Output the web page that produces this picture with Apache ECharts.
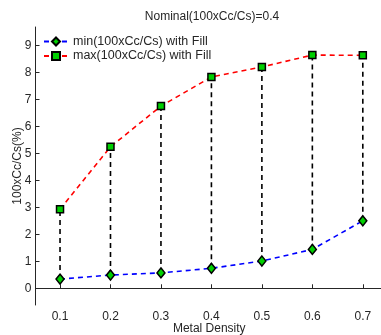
<!DOCTYPE html>
<html><head><meta charset="utf-8">
<script src="https://cdn.jsdelivr.net/npm/echarts@6/dist/echarts.min.js"></script>
<style>html,body{margin:0;padding:0;background:#fff}#c{width:381px;height:335px}</style>
</head><body><div id="c"></div>
<script>
var density = [0.1, 0.2, 0.3, 0.4, 0.5, 0.6, 0.7];
var minVals = [0.34, 0.49, 0.57, 0.74, 1.01, 1.44, 2.50];
var maxVals = [2.93, 5.24, 6.75, 7.83, 8.20, 8.64, 8.63];
var yTicks = [0, 1, 2, 3, 4, 5, 6, 7, 8, 9];
var xTicks = [0.1, 0.2, 0.3, 0.4, 0.5, 0.6, 0.7];
var titleText = 'Nominal(100xCc/Cs)=0.4';
var minName = 'min(100xCc/Cs) with Fill';
var maxName = 'max(100xCc/Cs) with Fill';

var font = 'Liberation Sans, Arial, Helvetica, sans-serif';
var chart = echarts.init(document.getElementById('c'), null, {renderer: 'canvas'});
var minData = density.map(function (x, i) { return [x, minVals[i]]; });
var maxData = density.map(function (x, i) { return [x, maxVals[i]]; });
var rangeData = density.map(function (x, i) { return [x, minVals[i], maxVals[i]]; });

chart.setOption({
  animation: false,
  title: {text: titleText, left: 207, top: 6, textAlign: 'center',
    textStyle: {fontFamily: font, fontSize: 12, fontWeight: 'normal', color: '#262626'}},
  grid: {left: 35.5, right: -2, top: 27, bottom: 30, containLabel: false, outerBoundsMode: 'none'},
  legend: {
    orient: 'vertical', left: 38, top: 30, itemWidth: 24, itemHeight: 10, itemGap: 1.5,
    textStyle: {fontFamily: font, fontSize: 12.5, color: '#262626'},
    data: [minName, maxName]
  },
  xAxis: {
    type: 'value', min: 0.0514, max: 0.7400,
    name: 'Metal Density', nameLocation: 'middle', nameGap: 18, nameMoveOverlap: false,
    nameTextStyle: {fontFamily: font, fontSize: 12, color: '#262626'},
    axisLine: {lineStyle: {color: '#262626', width: 1}},
    axisTick: {inside: true, length: 4, customValues: xTicks, lineStyle: {color: '#262626'}},
    axisLabel: {customValues: xTicks, fontFamily: font, fontSize: 12, color: '#262626', margin: 6,
      formatter: function (v) { return v.toFixed(1); }},
    splitLine: {show: false}
  },
  yAxis: {
    type: 'value', min: -0.62, max: 9.68,
    name: '100xCc/Cs(%)', nameLocation: 'middle', nameGap: 12, nameRotate: 90, nameMoveOverlap: false,
    nameTextStyle: {fontFamily: font, fontSize: 12, color: '#262626'},
    axisLine: {show: true, lineStyle: {color: '#262626', width: 1}},
    axisTick: {show: true, inside: true, length: 4, customValues: yTicks, lineStyle: {color: '#262626'}},
    axisLabel: {customValues: yTicks, fontFamily: font, fontSize: 12, color: '#262626', margin: 4},
    splitLine: {show: false}
  },
  series: [
    {
      type: 'custom', name: 'range', silent: true, z: 1,
      renderItem: function (params, api) {
        var p1 = api.coord([api.value(0), api.value(1)]);
        var p2 = api.coord([api.value(0), api.value(2)]);
        return {type: 'line', shape: {x1: p1[0], y1: p1[1], x2: p2[0], y2: p2[1]},
          style: {stroke: '#000', lineWidth: 1.6, lineDash: [5, 4]}};
      },
      data: rangeData
    },
    {
      type: 'line', name: minName, data: minData, z: 3,
      symbol: 'diamond', symbolSize: [8, 10],
      lineStyle: {color: '#0000ff', width: 1.6, type: [5, 4]},
      itemStyle: {color: '#00d000', borderColor: '#000', borderWidth: 1.5}
    },
    {
      type: 'line', name: maxName, data: maxData, z: 3,
      symbol: 'rect', symbolSize: 7,
      lineStyle: {color: '#ff0000', width: 1.6, type: [5, 4]},
      itemStyle: {color: '#00d000', borderColor: '#000', borderWidth: 1.5}
    }
  ]
});
</script></body></html>
